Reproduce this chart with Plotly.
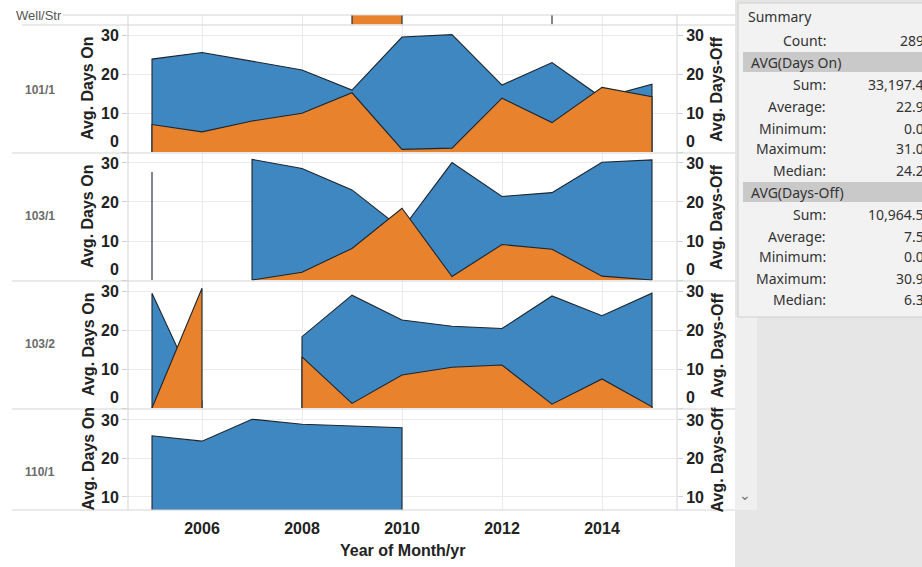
import plotly.graph_objects as go

# ---------------- data ----------------
years = [2005, 2006, 2007, 2008, 2009, 2010, 2011, 2012, 2013, 2014, 2015]

# row partly scrolled out of view at the top (only its base is visible)
on_top  = [None, None, None, None, None, None, None, None, 20.0, None, None]
off_top = [None, None, None, None, 20.0, 20.0, None, None, None, None, None]

on_101_1  = [24.0, 25.7, 23.4, 21.2, 16.0, 29.7, 30.3, 17.3, 23.1, 14.0, 17.5]
off_101_1 = [7.1, 5.2, 8.0, 10.0, 15.3, 0.7, 1.0, 13.9, 7.6, 16.7, 14.3]

on_103_1  = [27.7, None, 30.9, 28.6, 23.1, 13.0, 30.1, 21.4, 22.4, 30.2, 30.8]
off_103_1 = [0.0, None, 0.0, 2.0, 8.1, 18.4, 0.9, 9.1, 7.9, 1.0, 0.0]

on_103_2  = [29.6, 1.8, None, 18.4, 29.1, 22.7, 21.1, 20.5, 28.9, 23.8, 29.6]
off_103_2 = [0.0, 30.9, None, 13.2, 1.2, 8.5, 10.5, 11.1, 1.0, 7.5, 0.3]

on_110_1  = [25.9, 24.5, 30.2, 28.9, 28.4, 28.0, None, None, None, None, None]
off_110_1 = [None] * 11

row_labels = ["101/1", "103/1", "103/2", "110/1"]
x_ticks = [2006, 2008, 2010, 2012, 2014]
y_ticks = [0, 10, 20, 30]

summary_rows = [
    ("label", "Count:", "2892"),
    ("header", "AVG(Days On)", None),
    ("label", "Sum:", "33,197.40"),
    ("label", "Average:", "22.96"),
    ("label", "Minimum:", "0.07"),
    ("label", "Maximum:", "31.00"),
    ("label", "Median:", "24.25"),
    ("header", "AVG(Days-Off)", None),
    ("label", "Sum:", "10,964.57"),
    ("label", "Average:", "7.58"),
    ("label", "Minimum:", "0.00"),
    ("label", "Maximum:", "30.93"),
    ("label", "Median:", "6.30"),
]

# ---------------- styling ----------------
W, H = 922, 567
BLUE = "#3e87c0"
ORANGE = "#e8822c"
EDGE = "#1c2630"
GRID = "#ebebeb"
SEP = "#d4d4d4"
FONT = "Liberation Sans, Arial, sans-serif"
UI = "Noto Sans, Open Sans, sans-serif"


def px(x):
    return x / W


def py(y):
    return 1 - y / H


def note(text, x, y, xanchor="center", yanchor="middle", yref="paper", **kw):
    d = dict(text=text, x=x, y=y, xref="paper", yref=yref, xanchor=xanchor,
             yanchor=yanchor, showarrow=False)
    d.update(kw)
    return d


panels = [
    dict(label=None, top=15, bot=25, rng=[-0.2, 2.4], on=on_top, off=off_top),
    dict(label=row_labels[0], top=25, bot=153, rng=[-0.25, 32.8], on=on_101_1, off=off_101_1, ly=90),
    dict(label=row_labels[1], top=153, bot=281, rng=[-0.25, 32.55], on=on_103_1, off=off_103_1, ly=216),
    dict(label=row_labels[2], top=281, bot=409, rng=[-0.25, 32.75], on=on_103_2, off=off_103_2, ly=344),
    dict(label=row_labels[3], top=409, bot=510, rng=[6.6, 32.85], on=on_110_1, off=off_110_1, ly=472),
]


def segments(xs, ys):
    segs, cur = [], []
    for x, y in zip(xs, ys):
        if y is None:
            if cur:
                segs.append(cur)
            cur = []
        else:
            cur.append((x, y))
    if cur:
        segs.append(cur)
    return segs


fig = go.Figure()
layout = dict(
    width=W, height=H, margin=dict(l=0, r=0, t=0, b=0),
    paper_bgcolor="white", plot_bgcolor="rgba(0,0,0,0)", showlegend=False,
    font=dict(family=FONT, color="#222"),
)
annotations = []
shapes = []
BOLD16 = dict(family=FONT, size=16, color="#222", weight="bold")

for i, p in enumerate(panels):
    lid, rid = 2 * i + 1, 2 * i + 2
    lname = "yaxis" if lid == 1 else f"yaxis{lid}"
    rname = f"yaxis{rid}"
    lref = "y" if lid == 1 else f"y{lid}"
    rref = f"y{rid}"
    dom = [py(p["bot"]), py(p["top"])]
    is_strip = p["label"] is None
    tv = [t for t in y_ticks if p["rng"][0] <= t <= p["rng"][1]]
    common = dict(
        domain=dom, range=p["rng"], anchor="x", zeroline=False, showline=False,
        tickvals=[] if is_strip else tv,
        ticktext=["" if t == 0 else str(t) for t in tv],
        ticks="" if is_strip else "outside", ticklen=5, tickcolor="#cfcfcf", tickwidth=1,
        tickfont=BOLD16, fixedrange=True,
    )
    layout[lname] = dict(common, side="left", showgrid=not is_strip, gridcolor=GRID)
    layout[rname] = dict(common, side="right", overlaying=lref, showgrid=False)

    # areas: Days On (blue) below, Days-Off (orange) drawn on top
    for series, color, ax in ((p["on"], BLUE, lref), (p["off"], ORANGE, rref)):
        # base trace keeps every axis pair alive even when a series has no visible marks
        fig.add_trace(go.Scatter(x=years, y=series, mode="lines", line=dict(width=0),
                                 xaxis="x", yaxis=ax, hoverinfo="skip", connectgaps=False))
        for seg in segments(years, series):
            xs = [seg[0][0]] + [s[0] for s in seg] + [seg[-1][0]]
            ys = [0] + [s[1] for s in seg] + [0]
            fig.add_trace(go.Scatter(
                x=xs, y=ys, mode="lines", fill="toself", fillcolor=color,
                line=dict(color=EDGE, width=1.1), xaxis="x", yaxis=ax,
                hoverinfo="skip"))

    if not is_strip:
        cy = (p["top"] + p["bot"]) / 2
        annotations.append(note("Avg. Days On", px(88), py(cy), textangle=-90, font=BOLD16))
        annotations.append(note("Avg. Days-Off", px(717), py(cy), textangle=-90, font=BOLD16))
        annotations.append(note(p["label"], px(40), py(p["ly"]),
                                font=dict(family=FONT, size=12, color="#6b6b6b", weight="bold")))
        if p["rng"][0] <= 0:
            annotations.append(note("0", px(121), 0, xanchor="right", yanchor="bottom",
                                    yref=lref, font=BOLD16))
            annotations.append(note("0", px(684), 0, xanchor="left", yanchor="bottom",
                                    yref=rref, font=BOLD16))

layout["xaxis"] = dict(
    domain=[px(128), px(677)], range=[2004.52, 2015.5], anchor="y9",
    tickvals=x_ticks, ticktext=[str(t) for t in x_ticks],
    showgrid=True, gridcolor=GRID, zeroline=False, showline=False, ticks="",
    ticklabelstandoff=7, fixedrange=True, tickfont=BOLD16,
)

annotations.append(note("Year of Month/yr", px(402), py(550), font=BOLD16))
annotations.append(note("Well/Str", px(14), py(15), xanchor="left",
                        font=dict(family=FONT, size=13, color="#555")))

# separators and frame lines
for y0, x0 in ((15, 63), (25, 22), (153, 12), (281, 12), (409, 12), (510, 12)):
    shapes.append(dict(type="line", xref="paper", yref="paper", x0=px(x0), x1=px(735),
                       y0=py(y0), y1=py(y0), line=dict(color=SEP, width=1)))
for xv in (128, 677):
    shapes.append(dict(type="line", xref="paper", yref="paper", x0=px(xv), x1=px(xv),
                       y0=py(15), y1=py(510), line=dict(color=SEP, width=1)))

# right-hand summary panel
shapes.append(dict(type="rect", xref="paper", yref="paper", x0=px(735), x1=1.01,
                   y0=py(567), y1=py(0), fillcolor="#e6e6e6", line=dict(width=0), layer="below"))
shapes.append(dict(type="rect", xref="paper", yref="paper", x0=px(735), x1=px(757),
                   y0=py(510), y1=py(317), fillcolor="#efefef", line=dict(width=0), layer="below"))
shapes.append(dict(type="rect", xref="paper", yref="paper", x0=px(738), x1=1.01,
                   y0=py(317), y1=py(3), fillcolor="#f2f2f2", line=dict(color="#d0d0d0", width=1),
                   layer="below"))

UIF = dict(family=UI, size=14, color="#333")
annotations.append(note("Summary", px(746), py(17), xanchor="left", font=UIF))
row_y = [41, 62, 84, 106, 128, 149, 170, 192, 214, 236, 257, 278, 299]
for (kind, lab, val), yy in zip(summary_rows, row_y):
    if kind == "header":
        shapes.append(dict(type="rect", xref="paper", yref="paper", x0=px(743), x1=1.01,
                           y0=py(yy + 10), y1=py(yy - 10), fillcolor="#c9c9c9",
                           line=dict(width=0), layer="below"))
        annotations.append(note(lab, px(749), py(yy), xanchor="left", font=UIF))
    else:
        annotations.append(note(lab, px(828), py(yy), xanchor="right", font=UIF))
        annotations.append(note(val, px(934), py(yy), xanchor="right", font=UIF))
annotations.append(note("⌄", px(745), py(495),
                        font=dict(family="DejaVu Sans", size=14, color="#777")))

layout["annotations"] = annotations
layout["shapes"] = shapes
fig.update_layout(**layout)
fig.write_html("out.html", config={"displayModeBar": False},
               post_script="document.body.style.margin='0px';document.body.style.overflow='hidden';")
